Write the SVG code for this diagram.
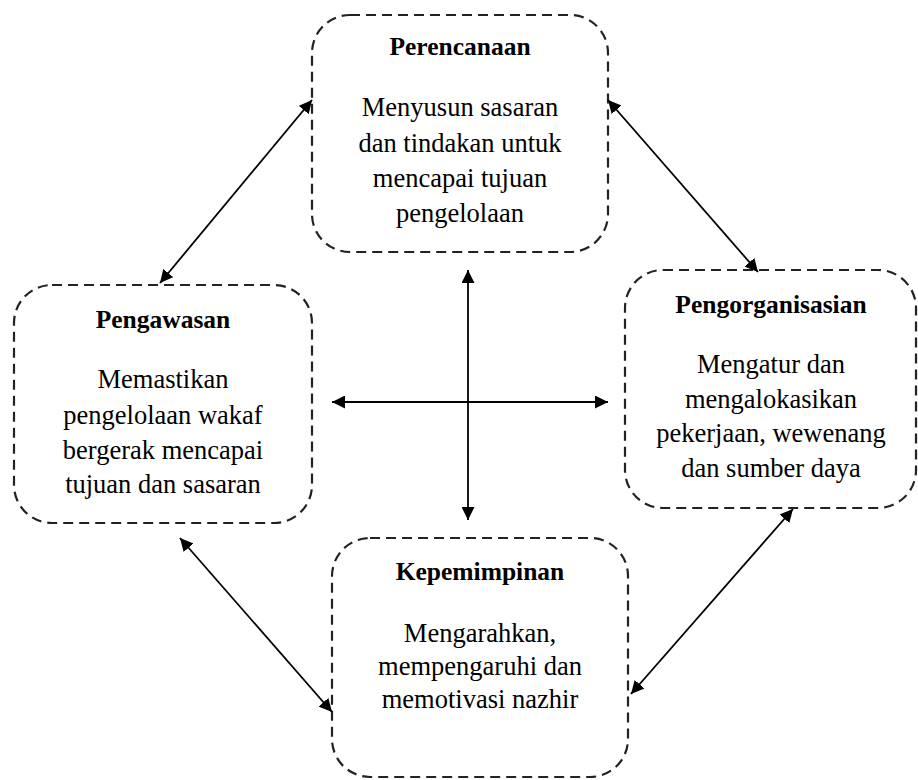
<svg xmlns="http://www.w3.org/2000/svg" width="918" height="780" viewBox="0 0 918 780">
<style>
.box{fill:#fff;stroke:#222;stroke-width:2.2;stroke-dasharray:10 6}
.t{font-weight:bold;font-size:25.5px;fill:#000;text-anchor:middle}
.b{font-size:26.5px;fill:#000;text-anchor:middle}
.c{stroke:#000;stroke-width:1.8;fill:none;marker-start:url(#ah);marker-end:url(#ah)}
</style>
<defs>
<marker id="ah" markerUnits="userSpaceOnUse" markerWidth="14" markerHeight="13" refX="13" refY="6.5" orient="auto-start-reverse">
<path d="M0,0 L13,6.5 L0,13 z" fill="#000"/>
</marker>
</defs>
<rect width="918" height="780" fill="#fff"/>
<g font-family="Liberation Serif, serif">
<g id="perencanaan">
<rect class="box" x="312" y="15" width="296" height="237" rx="38"/>
<text class="t" x="460" y="55">Perencanaan</text>
<text class="b" x="460" y="116">Menyusun sasaran</text>
<text class="b" x="460" y="152">dan tindakan untuk</text>
<text class="b" x="460" y="187">mencapai tujuan</text>
<text class="b" x="460" y="222">pengelolaan</text>
</g>
<g id="pengawasan">
<rect class="box" x="14" y="285" width="298" height="238" rx="38"/>
<text class="t" x="163" y="328">Pengawasan</text>
<text class="b" x="163" y="388">Memastikan</text>
<text class="b" x="163" y="424">pengelolaan wakaf</text>
<text class="b" x="163" y="459">bergerak mencapai</text>
<text class="b" x="163" y="493">tujuan dan sasaran</text>
</g>
<g id="pengorganisasian">
<rect class="box" x="625" y="270" width="291" height="238" rx="38"/>
<text class="t" x="771" y="313">Pengorganisasian</text>
<text class="b" x="771" y="373">Mengatur dan</text>
<text class="b" x="771" y="408">mengalokasikan</text>
<text class="b" x="771" y="442">pekerjaan, wewenang</text>
<text class="b" x="771" y="477">dan sumber daya</text>
</g>
<g id="kepemimpinan">
<rect class="box" x="332" y="538" width="296" height="239" rx="38"/>
<text class="t" x="480" y="580">Kepemimpinan</text>
<text class="b" x="480" y="642">Mengarahkan,</text>
<text class="b" x="480" y="675">mempengaruhi dan</text>
<text class="b" x="480" y="708">memotivasi nazhir</text>
</g>
</g>
<g id="connectors">
<line class="c" x1="312" y1="100" x2="160" y2="283"/>
<line class="c" x1="608" y1="100" x2="758" y2="272"/>
<line class="c" x1="180" y1="538" x2="332" y2="712"/>
<line class="c" x1="793" y1="509" x2="631" y2="694"/>
<line class="c" x1="468" y1="270" x2="468" y2="520"/>
<line class="c" x1="332" y1="402" x2="608" y2="402"/>
</g>
</svg>
